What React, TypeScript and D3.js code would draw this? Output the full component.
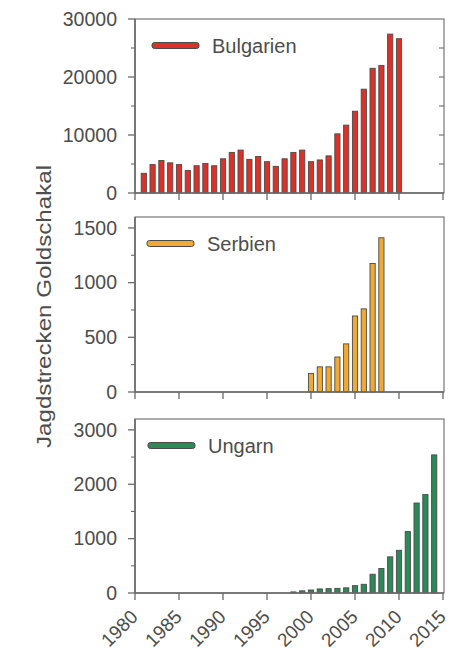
import React from "react";
import * as d3 from "d3";

// Hunting bag of the golden jackal per country and year
const bulgariaYears = [1981, 1982, 1983, 1984, 1985, 1986, 1987, 1988, 1989, 1990, 1991, 1992, 1993, 1994, 1995, 1996, 1997, 1998, 1999, 2000, 2001, 2002, 2003, 2004, 2005, 2006, 2007, 2008, 2009, 2010];
const bulgariaValues = [3400, 4900, 5600, 5200, 4900, 3900, 4700, 5100, 4700, 5900, 7000, 7400, 5800, 6300, 5400, 4600, 5900, 7000, 7400, 5400, 5700, 6400, 10200, 11700, 14100, 17900, 21500, 22000, 27400, 26600];

const serbiaYears = [2000, 2001, 2002, 2003, 2004, 2005, 2006, 2007, 2008];
const serbiaValues = [170, 230, 230, 320, 440, 695, 760, 1175, 1410];

const hungaryYears = [1998, 1999, 2000, 2001, 2002, 2003, 2004, 2005, 2006, 2007, 2008, 2009, 2010, 2011, 2012, 2013, 2014];
const hungaryValues = [20, 40, 55, 75, 80, 85, 95, 135, 160, 345, 450, 665, 785, 1130, 1655, 1810, 2540];

const countryNames = ["Bulgarien", "Serbien", "Ungarn"];
const yearTicks = [1980, 1985, 1990, 1995, 2000, 2005, 2010, 2015];
const bulgariaTicks = [0, 10000, 20000, 30000];
const serbiaTicks = [0, 500, 1000, 1500];
const hungaryTicks = [0, 1000, 2000, 3000];
const yTitle = "Jagdstrecken Goldschakal";

const FONT = "'Liberation Sans', Arial, Helvetica, sans-serif";
const AXIS = "#6a6a6a";
const TEXT = "#4d4d4d";
const BAR_STROKE = "#4a4a4a";

const LEFT = 135;
const RIGHT = 443;

const x = d3.scaleLinear().domain([1980, 2015]).range([LEFT, RIGHT]);

type Panel = {
  name: string;
  years: number[];
  values: number[];
  ticks: number[];
  minorStep: number;
  yMax: number;
  top: number;
  bottom: number;
  color: string;
  rightTicks: boolean;
  legendDx: number;
};

const panels: Panel[] = [
  { name: countryNames[0], years: bulgariaYears, values: bulgariaValues, ticks: bulgariaTicks, minorStep: 5000, yMax: 30000, top: 19, bottom: 193, color: "#dc3129", rightTicks: true, legendDx: 17 },
  { name: countryNames[1], years: serbiaYears, values: serbiaValues, ticks: serbiaTicks, minorStep: 250, yMax: 1600, top: 217, bottom: 392, color: "#f2a933", rightTicks: false, legendDx: 12 },
  { name: countryNames[2], years: hungaryYears, values: hungaryValues, ticks: hungaryTicks, minorStep: 500, yMax: 3200, top: 419, bottom: 593, color: "#2b8a57", rightTicks: false, legendDx: 13 },
];

const BAR_W = 5.2;

function PanelView({ p, showYearLabels }: { p: Panel; showYearLabels: boolean }) {
  const y = d3.scaleLinear().domain([0, p.yMax]).range([p.bottom, p.top]);
  const minor = d3.range(0, p.yMax + 1e-9, p.minorStep).filter((v) => !p.ticks.includes(v));
  const rightTicks = d3.range(p.minorStep, p.yMax, p.minorStep);
  return (
    <g>
      {/* bars */}
      {p.years.map((yr, i) => (
        <rect
          key={yr}
          x={x(yr) - BAR_W / 2}
          y={y(p.values[i])}
          width={BAR_W}
          height={Math.max(0.5, p.bottom - y(p.values[i]))}
          fill={p.color}
          stroke={BAR_STROKE}
          strokeWidth={0.9}
        />
      ))}
      {/* frame */}
      <rect x={LEFT} y={p.top} width={RIGHT - LEFT + 1} height={p.bottom - p.top} fill="none" stroke={AXIS} strokeWidth={1.1} />
      <line x1={LEFT} x2={LEFT} y1={p.top} y2={p.bottom} stroke={AXIS} strokeWidth={1.6} />
      <line x1={LEFT} x2={RIGHT + 1} y1={p.bottom} y2={p.bottom} stroke={AXIS} strokeWidth={1.6} />
      {/* y ticks */}
      {p.ticks.map((t) => (
        <g key={"t" + t}>
          <line x1={LEFT - 7} x2={LEFT} y1={y(t)} y2={y(t)} stroke={AXIS} strokeWidth={1.3} />
          <text x={LEFT - 18} y={y(t)} dy="0.35em" textAnchor="end" fontSize={19.5} fill={TEXT} fontFamily={FONT}>
            {t}
          </text>
        </g>
      ))}
      {minor.map((t) => (
        <line key={"m" + t} x1={LEFT - 4} x2={LEFT} y1={y(t)} y2={y(t)} stroke={AXIS} strokeWidth={1.1} />
      ))}
      {p.rightTicks &&
        rightTicks.map((t) => (
          <line key={"r" + t} x1={RIGHT - 4} x2={RIGHT + 1} y1={y(t)} y2={y(t)} stroke={AXIS} strokeWidth={1.1} />
        ))}
      {/* x ticks */}
      {yearTicks.map((yr) => (
        <line key={"x" + yr} x1={x(yr)} x2={x(yr)} y1={p.bottom} y2={p.bottom + 7} stroke={AXIS} strokeWidth={1.3} />
      ))}
      {showYearLabels &&
        yearTicks.map((yr) => (
          <text
            key={"xl" + yr}
            transform={`translate(${x(yr) + 4},${p.bottom + 25}) rotate(-45)`}
            textAnchor="end"
            fontSize={19}
            fill={TEXT}
            fontFamily={FONT}
          >
            {yr}
          </text>
        ))}
      {/* legend */}
      <rect x={LEFT + p.legendDx} y={p.top + 23.5} width={47} height={6} rx={2.5} fill={p.color} stroke={BAR_STROKE} strokeWidth={1} />
      <text x={LEFT + p.legendDx + 60} y={p.top + 26.5} dy="0.35em" fontSize={20} fill={TEXT} fontFamily={FONT}>
        {p.name}
      </text>
    </g>
  );
}

export default function App() {
  return (
    <svg
      width={462}
      height={652}
      viewBox="0 0 462 652"
      style={{ position: "absolute", left: 0, top: 0, background: "#ffffff" }}
    >
      <rect x={0} y={0} width={462} height={652} fill="#ffffff" />
      {panels.map((p, i) => (
        <PanelView key={p.name} p={p} showYearLabels={i === panels.length - 1} />
      ))}
      <text
        transform="translate(51,306.5) rotate(-90)"
        textAnchor="middle"
        fontSize={20}
        textLength={283}
        lengthAdjust="spacingAndGlyphs"
        fill={TEXT}
        fontFamily={FONT}
      >
        {yTitle}
      </text>
    </svg>
  );
}
